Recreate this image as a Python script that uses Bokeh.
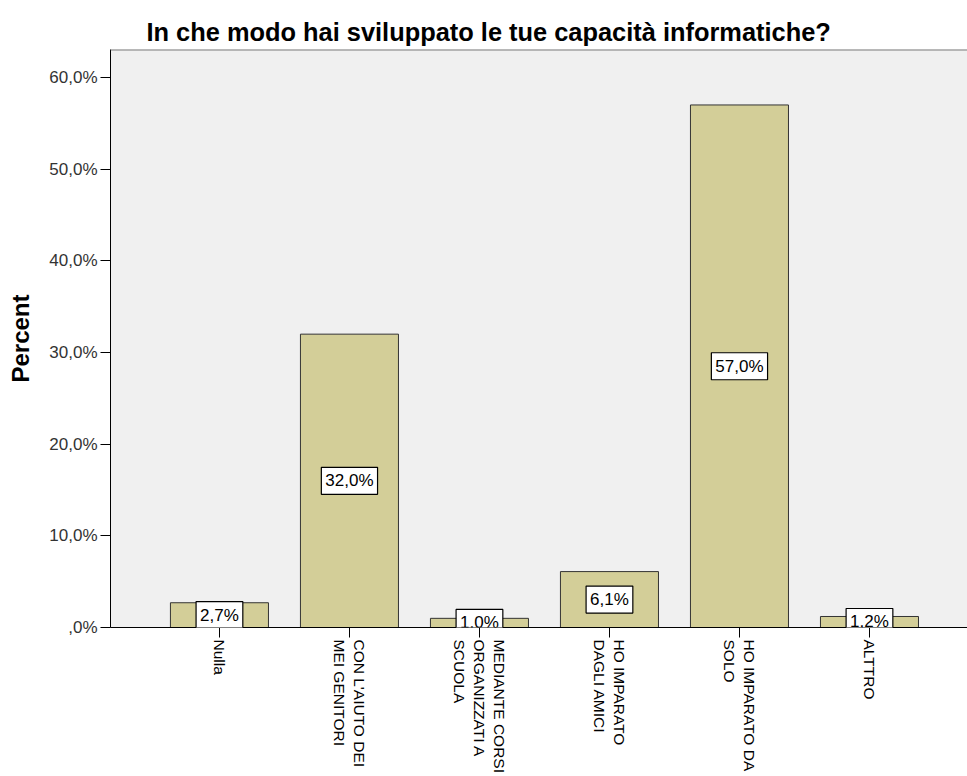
import math

from bokeh.embed import file_html
from bokeh.models import ColumnDataSource, FixedTicker, Label, Range1d, Span
from bokeh.plotting import figure
from bokeh.resources import INLINE

# Survey answers and their share of respondents (%)
categories = [
    "Nulla",
    "CON L'AIUTO DEI\nMEI GENITORI",
    "MEDIANTE CORSI\nORGANIZZATI A\nSCUOLA",
    "HO IMPARATO\nDAGLI AMICI",
    "HO IMPARATO DA\nSOLO",
    "ALTTRO",
]
percent = [2.7, 32.0, 1.0, 6.1, 57.0, 1.2]

y_ticks = [0, 10, 20, 30, 40, 50, 60]
y_tick_labels = [",0%", "10,0%", "20,0%", "30,0%", "40,0%", "50,0%", "60,0%"]

title_text = "In che modo hai sviluppato le tue capacità informatiche?"
y_axis_title = "Percent"

FONT = "Liberation Sans"

positions = list(range(len(categories)))
bar_labels = [f"{v:.1f}".replace(".", ",") + "%" for v in percent]
source = ColumnDataSource(dict(x=positions, top=percent))

Y_TOP = 63.05

p = figure(
    width=967,
    height=776,
    output_backend="svg",
    toolbar_location=None,
    x_range=Range1d(-0.838, 5.754),
    y_range=Range1d(0, Y_TOP),
    min_border_left=110,
    min_border_right=0,
    min_border_top=49,
    min_border_bottom=149,
    background_fill_color="#f0f0f0",
    border_fill_color="white",
)
p.outline_line_color = None
p.grid.visible = False

# Title
p.title.text = title_text
p.title.text_font = FONT
p.title.text_font_size = "25.4px"
p.title.text_font_style = "bold"
p.title.text_color = "black"
p.title.align = "left"
p.title.offset = 36
p.title.standoff = 7

# Bars
p.vbar(x="x", top="top", bottom=0, width=0.754, source=source,
       fill_color="#d3ce98", line_color="#333333", line_width=1)

# Thin grey border along the top of the plot panel
p.add_layout(Span(location=Y_TOP, dimension="width", line_color="#7a7a7a", line_width=2))

# Value boxes at half the bar height
for xi, v, txt in zip(positions, percent, bar_labels):
    p.add_layout(Label(
        x=xi, y=v / 2, text=txt,
        text_align="center", text_baseline="middle",
        text_font=FONT, text_font_size="17px", text_color="black",
        background_fill_color="white", border_line_color="black", border_line_width=1.2,
        padding=4,
    ))

# Y axis
p.yaxis.ticker = FixedTicker(ticks=y_ticks)
p.yaxis.major_label_overrides = {t: s for t, s in zip(y_ticks, y_tick_labels)}
p.yaxis.axis_label = y_axis_title
p.yaxis.axis_label_text_font = FONT
p.yaxis.axis_label_text_font_size = "24px"
p.yaxis.axis_label_text_font_style = "bold"
p.yaxis.axis_label_text_color = "black"
p.yaxis.axis_label_standoff = 12
p.yaxis.major_label_text_font = FONT
p.yaxis.major_label_text_font_size = "17px"
p.yaxis.major_label_text_color = "#333333"
p.yaxis.major_label_standoff = 3
p.yaxis.major_tick_out = 10
p.yaxis.major_tick_in = 0
p.yaxis.minor_tick_line_color = None
p.yaxis.axis_line_color = "black"
p.yaxis.major_tick_line_color = "black"

# X axis with wrapped, vertical category names
p.xaxis.ticker = FixedTicker(ticks=positions)
p.xaxis.major_label_overrides = {i: c for i, c in zip(positions, categories)}
p.xaxis.major_label_orientation = -math.pi / 2
p.xaxis.major_label_text_font = FONT
p.xaxis.major_label_text_font_size = "15.5px"
p.xaxis.major_label_text_color = "black"
p.xaxis.major_label_standoff = 2
p.xaxis.major_tick_out = 10
p.xaxis.major_tick_in = 0
p.xaxis.minor_tick_line_color = None
p.xaxis.axis_line_color = "black"
p.xaxis.major_tick_line_color = "black"

open("out.html", "w").write(file_html(p, INLINE))
